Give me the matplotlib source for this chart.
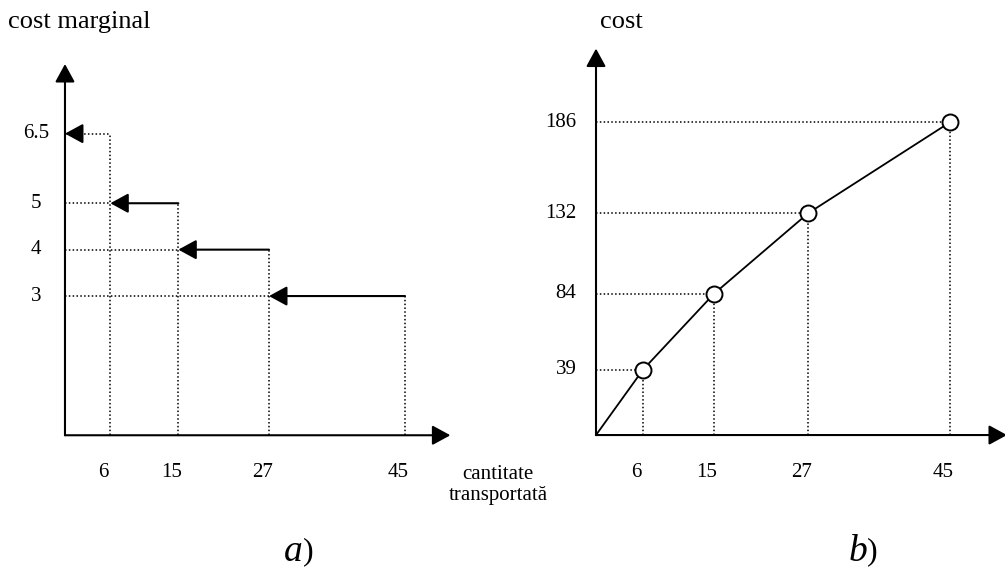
import matplotlib.pyplot as plt

plt.rcParams['font.family'] = ['Liberation Serif', 'DejaVu Serif']

# ----------------------------------------------------------
# Data
# ----------------------------------------------------------
# quantities where the marginal cost changes
q_marks = [6, 15, 27, 45]
q_labels = ['6', '15', '27', '45']

# panel a) marginal cost for each block (0-6, 6-15, 15-27, 27-45)
mc_levels = [6.5, 5, 4, 3]
mc_labels = ['6.5', '5', '4', '3']

# panel b) cumulated cost at each quantity
cost_values = [39, 84, 132, 186]
cost_labels = ['39', '84', '132', '186']

TICK_FS = 15
DOT = dict(color='k', lw=1.1, linestyle=(0, (1, 1.5)))
HEAD = '-|>,head_length=0.55,head_width=0.3'


def arrow(ax, start, end, lw=1.5):
    ax.annotate('', xy=end, xytext=start, annotation_clip=False,
                arrowprops=dict(arrowstyle=HEAD, color='k', lw=lw,
                                mutation_scale=20, shrinkA=0, shrinkB=0))


fig = plt.figure(figsize=(10.05, 5.74), dpi=100)

# ----------------------------------------------------------
# a) marginal cost steps
# ----------------------------------------------------------
ax_a = fig.add_axes([0, 0, 0.5, 1])
ax_a.set_xlim(-8.6, 57.9)
ax_a.set_ylim(-2.99, 9.38)
ax_a.axis('off')

arrow(ax_a, (0, 0), (51.0, 0))
arrow(ax_a, (0, 0), (0, 8.0))

bounds = [0] + q_marks
for i, level in enumerate(mc_levels):
    x0, x1 = bounds[i], bounds[i + 1]
    # dotted drop line and dotted guide to the y axis
    ax_a.plot([x1, x1], [0, level], **DOT)
    if x0 > 0:
        ax_a.plot([0, x0], [level, level], **DOT)
        arrow(ax_a, (x1, level), (x0, level))
    else:
        # first block only drawn dotted, with the arrow head on the axis
        ax_a.plot([0, x1], [level, level], **DOT)
        ax_a.annotate('', xy=(0, level), xytext=(11, 0),
                      textcoords='offset points',
                      arrowprops=dict(arrowstyle=HEAD, color='k', lw=1.5,
                                      mutation_scale=20, shrinkA=0, shrinkB=0))
    ax_a.annotate(mc_labels[i], xy=(0, level), xytext=(-21, 0),
                  textcoords='offset points', ha='center', va='center',
                  fontsize=TICK_FS)

for q, lab in zip(q_marks, q_labels):
    ax_a.annotate(lab, xy=(q, 0), xytext=(-5, -27), textcoords='offset points',
                  ha='center', va='center', fontsize=TICK_FS)

fig.text(8 / 1005, 1 - 22 / 574, 'cost marginal', fontsize=19, va='center')
fig.text(498 / 1005, 1 - 485 / 574, 'cantitate\ntransportată', fontsize=15,
         ha='center', va='center', linespacing=1.1)

fig.text(303 / 1005, 1 - 552 / 574, 'a', fontsize=27, style='italic',
         ha='right', va='center')
fig.text(303 / 1005, 1 - 552 / 574, ')', fontsize=23, ha='left', va='center')

# ----------------------------------------------------------
# b) total cost
# ----------------------------------------------------------
ax_b = fig.add_axes([0.5, 0, 0.5, 1])
ax_b.set_xlim(-11.9, 52.05)
ax_b.set_ylim(-82.7, 258.9)
ax_b.axis('off')

arrow(ax_b, (0, 0), (52.3, 0))
arrow(ax_b, (0, 0), (0, 230))

for q, c, lab in zip(q_marks, cost_values, cost_labels):
    ax_b.plot([0, q], [c, c], **DOT)
    ax_b.plot([q, q], [0, c], **DOT)
    ax_b.annotate(lab, xy=(0, c), xytext=(-14, 0), textcoords='offset points',
                  ha='right', va='center', fontsize=TICK_FS)

for q, lab in zip(q_marks, q_labels):
    ax_b.annotate(lab, xy=(q, 0), xytext=(-5, -27), textcoords='offset points',
                  ha='center', va='center', fontsize=TICK_FS)

ax_b.plot([0] + q_marks, [0] + cost_values, color='k', lw=1.3, zorder=3)
ax_b.plot(q_marks, cost_values, 'o', ms=11.5, mfc='white', mec='k',
          mew=1.4, zorder=4)

fig.text(600 / 1005, 1 - 22 / 574, 'cost', fontsize=19, va='center')

fig.text(867 / 1005, 1 - 552 / 574, 'b', fontsize=27, style='italic',
         ha='right', va='center')
fig.text(867 / 1005, 1 - 552 / 574, ')', fontsize=23, ha='left', va='center')

fig.savefig('out.png', dpi=100)
